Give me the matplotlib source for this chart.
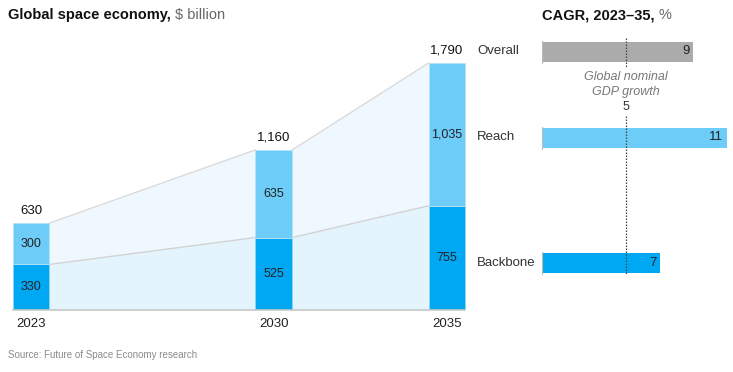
import matplotlib.pyplot as plt

plt.rcParams['font.family'] = ['Liberation Sans', 'DejaVu Sans']

# data
years = [2023, 2030, 2035]
backbone = [330, 525, 755]
reach = [300, 635, 1035]
totals = [630, 1160, 1790]
year_labels = ['2023', '2030', '2035']

cagr_names = ['Overall', 'Reach', 'Backbone']
cagr_values = [9, 11, 7]
gdp_growth = 5

c_backbone = '#00A8F3'
c_reach = '#6ECDF8'
c_overall = '#ABABAB'
c_area_low = '#E3F4FD'
c_area_high = '#EFF8FE'
c_text = '#222222'
c_grey = '#777777'

W, H = 733, 372
fig = plt.figure(figsize=(W / 100, H / 100), dpi=100)


def px_axes(x0, y0, x1, y1):
    # pixel box (top-left origin) -> axes
    return fig.add_axes([x0 / W, 1 - y1 / H, (x1 - x0) / W, (y1 - y0) / H])


# ---- left chart
ax = px_axes(13, 40, 466, 310)
ax.set_xlim(2022.481, 2035.548)
ax.set_ylim(0, 1957)
ax.axis('off')
bw = 1.066

for i in range(len(years) - 1):
    xa = years[i] + bw / 2
    xb = years[i + 1] - bw / 2
    ax.fill_between([xa, xb], 0, [backbone[i], backbone[i + 1]], color=c_area_low, lw=0, zorder=1)
    ax.fill_between([xa, xb], [backbone[i], backbone[i + 1]], [totals[i], totals[i + 1]],
                    color=c_area_high, lw=0, zorder=1)
    ax.plot([xa, xb], [backbone[i], backbone[i + 1]], color='#D2D2D2', lw=1, zorder=2)
    ax.plot([xa, xb], [totals[i], totals[i + 1]], color='#DADADA', lw=1, zorder=2)

ax.bar(years, backbone, width=bw, color=c_backbone, edgecolor='#8FD5F7', lw=0.6, zorder=3)
ax.bar(years, reach, width=bw, bottom=backbone, color=c_reach, edgecolor='#B5E4FA', lw=0.6, zorder=3)
ax.plot([years[0] - bw / 2, years[-1] + bw / 2], [0, 0], color='#C8C8C8', lw=1.2, zorder=4,
        clip_on=False)

for x, b, r, t, lab in zip(years, backbone, reach, totals, year_labels):
    ax.text(x, b / 2, f'{b:,}', ha='center', va='center', fontsize=9, color=c_text, zorder=5)
    ax.text(x, b + r / 2, f'{r:,}', ha='center', va='center', fontsize=9, color=c_text, zorder=5)
    ax.text(x, t + 45, f'{t:,}', ha='center', va='bottom', fontsize=9.5, color='#111111', zorder=5)
    ax.text(x, -60, lab, ha='center', va='top', fontsize=9.5, color=c_text, clip_on=False)

# ---- right chart
ax2 = px_axes(542, 30, 730, 290)
ax2.set_xlim(0, 188 / 16.8)
ax2.set_ylim(290, 30)
ax2.axis('off')
ypos = [51.5, 137.5, 263]
cols = [c_overall, c_reach, c_backbone]
ax2.barh(ypos, cagr_values, height=20, color=cols, zorder=2)
for y, v, n in zip(ypos, cagr_values, cagr_names):
    ax2.text(v - 0.2, y, str(v), ha='right', va='center', fontsize=9.5, color=c_text, zorder=4)
    ax2.text(-3.87, y, n, ha='left', va='center', fontsize=9.5, color='#333333', clip_on=False)
    ax2.plot([0, 0], [y - 11, y + 11], color='#BBBBBB', lw=0.8, zorder=3)

ax2.plot([gdp_growth, gdp_growth], [38, 68], color='#444444', lw=0.9, ls=(0, (1.2, 1.2)), zorder=3)
ax2.plot([gdp_growth, gdp_growth], [116, 275], color='#444444', lw=0.9, ls=(0, (1.2, 1.2)), zorder=3)
ax2.text(gdp_growth, 77, 'Global nominal', ha='center', va='center', fontsize=9, style='italic',
         color=c_grey)
ax2.text(gdp_growth, 92, 'GDP growth', ha='center', va='center', fontsize=9, style='italic',
         color=c_grey)
ax2.text(gdp_growth, 107, str(gdp_growth), ha='center', va='center', fontsize=9, color='#333333')

# ---- titles
r = fig.canvas.get_renderer()
t1 = fig.text(8 / W, 1 - 15 / H, 'Global space economy,', ha='left', va='center',
              fontsize=10.5, fontweight='bold', color='#111111')
bb = t1.get_window_extent(renderer=r)
fig.text((bb.x1 + 4) / W, 1 - 15 / H, '$ billion', ha='left', va='center',
         fontsize=10.5, color='#666666')

t2 = fig.text(542 / W, 1 - 15 / H, 'CAGR, 2023–35,', ha='left', va='center',
              fontsize=10.5, fontweight='bold', color='#111111')
bb = t2.get_window_extent(renderer=r)
fig.text((bb.x1 + 4) / W, 1 - 15 / H, '%', ha='left', va='center',
         fontsize=10.5, color='#666666')

fig.text(8 / W, 1 - 355 / H, 'Source: Future of Space Economy research', ha='left', va='center',
         fontsize=7, color='#8A8A8A')

fig.savefig('out.png', dpi=100)
